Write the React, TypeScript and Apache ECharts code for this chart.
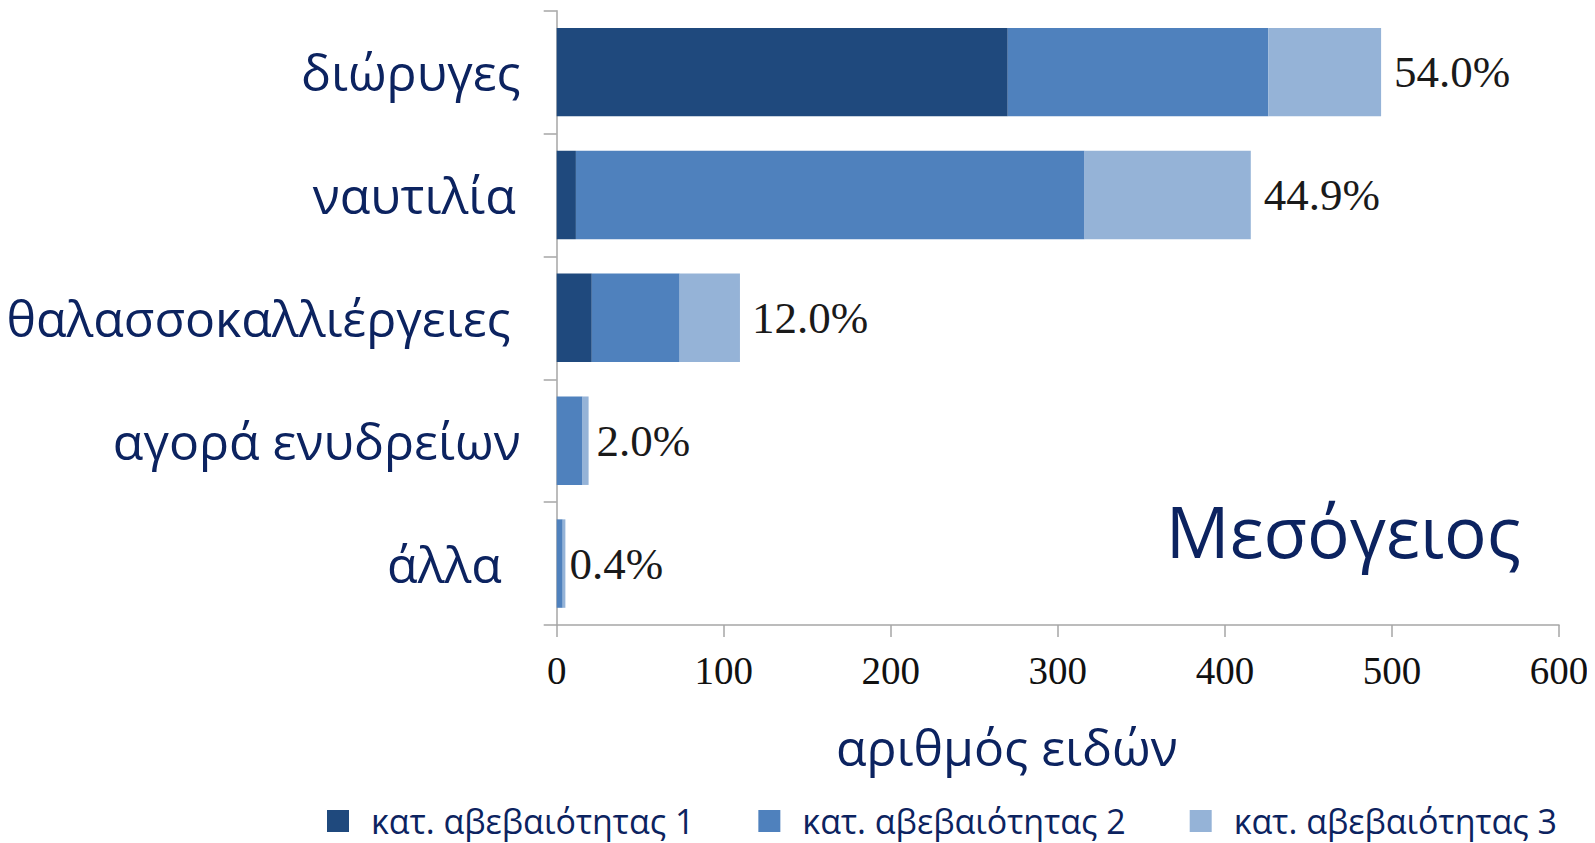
import React, { useEffect, useRef } from "react";
import * as echarts from "echarts";

const categories = ["διώρυγες", "ναυτιλία", "θαλασσοκαλλιέργειες", "αγορά ενυδρείων", "άλλα"];
const seriesNames = ["κατ. αβεβαιότητας 1", "κατ. αβεβαιότητας 2", "κατ. αβεβαιότητας 3"];
const cat1 = [270, 11.5, 21, 0, 0];
const cat2 = [156, 304.5, 52.6, 15.5, 3.6];
const cat3 = [67.5, 99.5, 36.1, 3.6, 1.6];
const percentLabels = ["54.0%", "44.9%", "12.0%", "2.0%", "0.4%"];
const xTicks = [0, 100, 200, 300, 400, 500, 600];
const titleText = "Μεσόγειος";
const axisTitle = "αριθμός ειδών";

// layout-only tweaks (not data)
const labelShiftY = [-7.5, -9.5, -3.5, 0.5, 17.5];
const labelShiftX = [0, 5, 10, 0, 19];
const pctDistance = [13, 13, 12, 8, 4];

const colors = ["#1f497d", "#4f81bd", "#95b3d7"];
const navy = "#0c2360";

export default function App() {
  const ref = useRef<HTMLDivElement>(null);
  useEffect(() => {
    if (!ref.current) return;
    const chart = echarts.init(ref.current, undefined, { renderer: "svg" });
    const yData = categories.map((c, i) => {
      const dy = labelShiftY[i];
      const dx = labelShiftX[i];
      return {
        value: c,
        textStyle: {
          padding: [dy > 0 ? 2 * dy : 0, dx, dy < 0 ? -2 * dy : 0, 0],
        },
      };
    });
    const all = [cat1, cat2, cat3];
    const option: any = {
      animation: false,
      backgroundColor: "#ffffff",
      grid: { left: 556.7, right: 36, top: 10.7, bottom: 218, containLabel: false },
      legend: {
        data: seriesNames,
        left: 327,
        top: 804,
        padding: 0,
        icon: "rect",
        itemWidth: 22,
        itemHeight: 22,
        itemGap: 64,
        textStyle: {
          fontFamily: "Open Sans",
          fontSize: 34,
          lineHeight: 30,
          color: navy,
          padding: [0, 0, 0, 17],
        },
      },
      xAxis: {
        type: "value",
        min: 0,
        max: 600,
        interval: 100,
        splitLine: { show: false },
        axisLine: { show: true, lineStyle: { color: "#a6a6a6", width: 1.5 } },
        axisTick: { show: true, length: 12, lineStyle: { color: "#a6a6a6", width: 1.5 } },
        axisLabel: {
          fontFamily: "Liberation Serif",
          fontSize: 39,
          color: "#111",
          margin: 25.5,
          formatter: (v: number) => (xTicks.includes(v) ? String(v) : ""),
        },
        name: axisTitle,
        nameLocation: "middle",
        nameGap: 97,
        nameTextStyle: {
          fontFamily: "Open Sans",
          fontSize: 50,
          color: navy,
          padding: [0, 102, 0, 0],
        },
      },
      yAxis: {
        type: "category",
        inverse: true,
        data: yData,
        axisLine: { show: true, lineStyle: { color: "#a6a6a6", width: 1.5 } },
        axisTick: { show: true, length: 13, lineStyle: { color: "#a6a6a6", width: 1.5 } },
        axisLabel: {
          fontFamily: "Open Sans",
          fontSize: 50,
          color: navy,
          margin: 36,
        },
      },
      series: all.map((vals, si) => ({
        name: seriesNames[si],
        type: "bar",
        stack: "total",
        barCategoryGap: "28%",
        itemStyle: { color: colors[si] },
        data: vals.map((v, i) =>
          si === 2
            ? {
                value: v,
                label: {
                  show: true,
                  position: "right",
                  distance: pctDistance[i],
                  formatter: percentLabels[i],
                  fontFamily: "Liberation Serif",
                  fontSize: 45,
                  color: "#1a1a1a",
                },
              }
            : v
        ),
      })),
      graphic: [
        {
          type: "text",
          right: 1595 - 1521,
          top: 494.5,
          style: {
            text: titleText,
            fontFamily: "Open Sans",
            fontSize: 71,
            fill: navy,
          },
        },
      ],
    };
    chart.setOption(option);
    return () => chart.dispose();
  }, []);
  return <div ref={ref} style={{ width: 1595, height: 843, marginTop: -8, marginLeft: -8 }} />;
}
